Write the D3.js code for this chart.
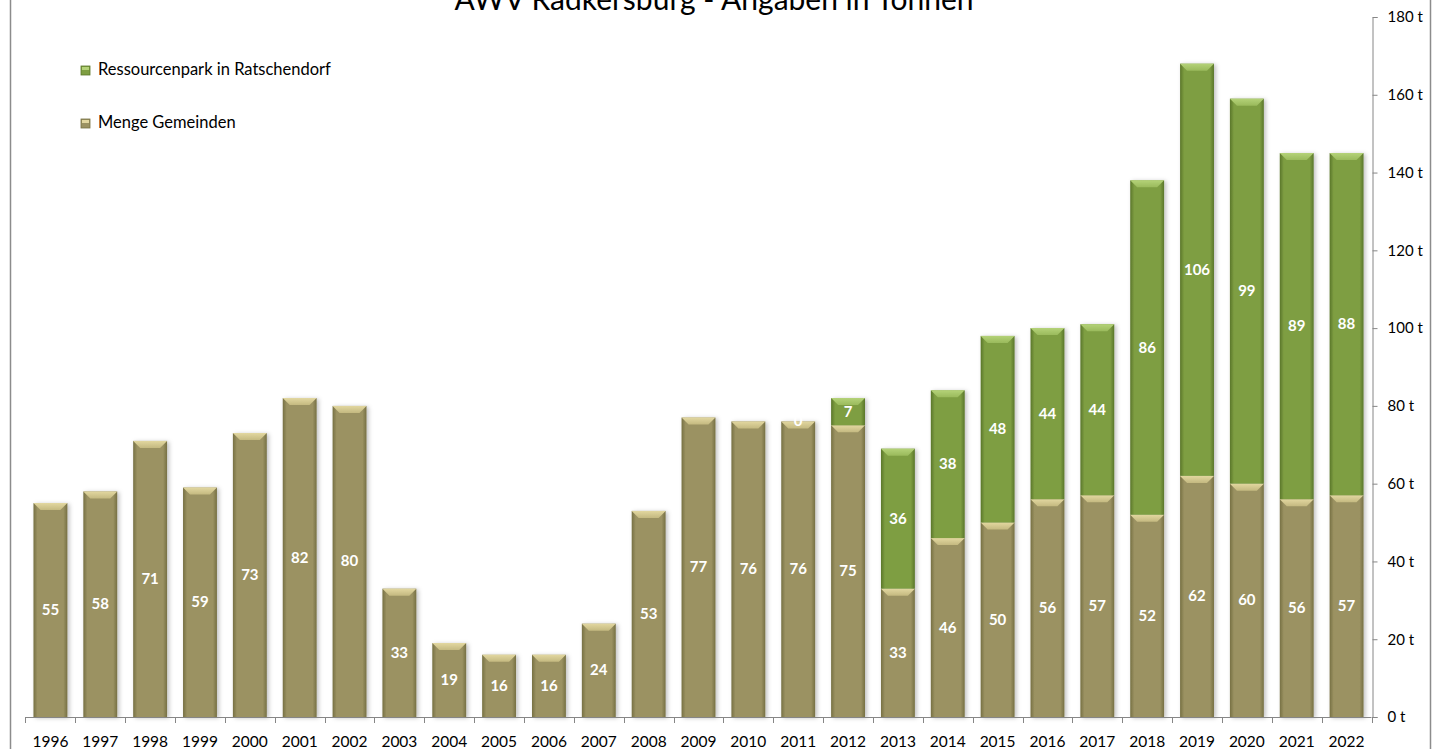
<!DOCTYPE html>
<html>
<head>
<meta charset="utf-8">
<script src="https://cdn.jsdelivr.net/npm/d3@7"></script>
<style>
  html, body { margin: 0; padding: 0; background: #fff; }
  svg { display: block; font-family: Lato, "Open Sans", sans-serif; }
</style>
</head>
<body>
<script>
const years = ['1996','1997','1998','1999','2000','2001','2002','2003','2004','2005','2006','2007','2008',
  '2009','2010','2011','2012','2013','2014','2015','2016','2017','2018','2019','2020','2021','2022'];
const gemeinden = [55, 58, 71, 59, 73, 82, 80, 33, 19, 16, 16, 24, 53, 77, 76, 76, 75, 33, 46, 50, 56, 57, 52, 62, 60, 56, 57];
const ressourcenpark = [null, null, null, null, null, null, null, null, null, null, null, null, null,
  null, null, 0, 7, 36, 38, 48, 44, 44, 86, 106, 99, 89, 88];
const yTicks = [0, 20, 40, 60, 80, 100, 120, 140, 160, 180];
const seriesNames = ['Ressourcenpark in Ratschendorf', 'Menge Gemeinden'];

const W = 1443, H = 749;
const svg = d3.select('body').append('svg').attr('width', W).attr('height', H);

const defs = svg.append('defs');
const palettes = {
  gem: { edge: '#767043', mid: '#9b9262', bevTop: '#e2d7a0', bevBot: '#c4b980' },
  res: { edge: '#5a762a', mid: '#7e9e42', bevTop: '#b4d278', bevBot: '#9aba5c' }
};
Object.entries(palettes).forEach(([k, p]) => {
  const g = defs.append('linearGradient').attr('id', 'body-' + k).attr('x1', 0).attr('x2', 1).attr('y1', 0).attr('y2', 0);
  g.append('stop').attr('offset', '0%').attr('stop-color', p.edge);
  g.append('stop').attr('offset', '12%').attr('stop-color', p.mid);
  g.append('stop').attr('offset', '88%').attr('stop-color', p.mid);
  g.append('stop').attr('offset', '100%').attr('stop-color', p.edge);
  const b = defs.append('linearGradient').attr('id', 'bev-' + k).attr('x1', 0).attr('x2', 0).attr('y1', 0).attr('y2', 1);
  b.append('stop').attr('offset', '0%').attr('stop-color', p.bevTop);
  b.append('stop').attr('offset', '100%').attr('stop-color', p.bevBot);
});
const shadow = defs.append('filter').attr('id', 'shadow').attr('x', '-20%').attr('y', '-5%').attr('width', '150%').attr('height', '120%');
shadow.append('feDropShadow').attr('dx', 2).attr('dy', 1).attr('stdDeviation', 2).attr('flood-color', '#000').attr('flood-opacity', 0.25);

// outer frame
svg.append('line').attr('x1', 10.5).attr('x2', 10.5).attr('y1', 0).attr('y2', H).attr('stroke', '#8c8c8c').attr('stroke-width', 1.5);
svg.append('line').attr('x1', 1430.5).attr('x2', 1430.5).attr('y1', 0).attr('y2', H).attr('stroke', '#8c8c8c').attr('stroke-width', 1.5);

const x = d3.scaleBand().domain(years).range([25.5, 1371.5]).paddingInner(0.32).paddingOuter(0.16);
const y = d3.scaleLinear().domain([0, 180]).range([717, 17]);

// title (clipped at the top edge, as in the source)
svg.append('text').attr('x', 714).attr('y', 10).attr('text-anchor', 'middle')
  .attr('font-size', 30).attr('fill', '#000').text('AWV Radkersburg - Angaben in Tonnen');

// stacked data
const rows = years.map((yr, i) => ({
  year: yr,
  segs: [
    { key: 'gem', v0: 0, v1: gemeinden[i], val: gemeinden[i] },
    ressourcenpark[i] == null ? null :
      { key: 'res', v0: gemeinden[i], v1: gemeinden[i] + ressourcenpark[i], val: ressourcenpark[i] }
  ].filter(Boolean)
}));

const bev = 7;
const barG = svg.append('g');
rows.forEach(r => {
  const bx = x(r.year), bw = x.bandwidth();
  const g = barG.append('g').attr('filter', 'url(#shadow)');
  r.segs.forEach(s => {
    const top = y(s.v1), bot = y(s.v0);
    if (bot - top <= 0) return;
    g.append('rect').attr('x', bx).attr('y', top).attr('width', bw).attr('height', bot - top)
      .attr('fill', `url(#body-${s.key})`);
    const bh = Math.min(bev, bot - top);
    g.append('path')
      .attr('d', `M${bx},${top}L${bx + bw},${top}L${bx + bw - bh},${top + bh}L${bx + bh},${top + bh}Z`)
      .attr('fill', `url(#bev-${s.key})`);
  });
});

// value labels
rows.forEach(r => {
  r.segs.forEach(s => {
    barG.append('text')
      .attr('x', x(r.year) + x.bandwidth() / 2)
      .attr('y', (y(s.v0) + y(s.v1)) / 2 + 5)
      .attr('text-anchor', 'middle').attr('font-size', 15).attr('font-weight', 'bold')
      .attr('fill', '#fff').text(d3.format('d')(s.val));
  });
});

// bottom axis (ticks at category boundaries)
const axisColor = '#868686';
const bottom = svg.append('g');
bottom.append('line').attr('x1', 25.5).attr('x2', 1371.5).attr('y1', 717.5).attr('y2', 717.5).attr('stroke', axisColor);
const step = x.step();
d3.range(years.length + 1).forEach(i => {
  const tx = Math.round(x(years[0]) - step * x.paddingOuter() + i * step) + 0.5;
  bottom.append('line').attr('x1', tx).attr('x2', tx).attr('y1', 717).attr('y2', 723).attr('stroke', axisColor);
});
bottom.selectAll('text.yr').data(years).enter().append('text')
  .attr('x', d => x(d) + x.bandwidth() / 2).attr('y', 747)
  .attr('text-anchor', 'middle').attr('font-size', 15.5).attr('fill', '#000').text(d => d);

// right axis
const right = svg.append('g').attr('transform', 'translate(1372.5,0)')
  .call(d3.axisRight(y).tickValues(yTicks).tickSize(5).tickPadding(10).tickFormat(d => d + ' t'));
right.select('.domain').attr('stroke', axisColor);
right.selectAll('.tick line').attr('stroke', axisColor);
right.selectAll('.tick text').attr('font-size', 15).attr('font-family', 'Lato, "Open Sans", sans-serif').attr('fill', '#000');

// legend
const legend = svg.append('g');
const legendKeys = ['res', 'gem'];
legendKeys.forEach((k, i) => {
  const ly = 70 + i * 53;
  legend.append('rect').attr('x', 81).attr('y', ly - 4).attr('width', 9).attr('height', 9)
    .attr('fill', palettes[k].mid).attr('stroke', palettes[k].edge).attr('stroke-width', 0.8);
  legend.append('rect').attr('x', 82).attr('y', ly - 3).attr('width', 7).attr('height', 3).attr('fill', palettes[k].bevTop);
  legend.append('text').attr('x', 98).attr('y', ly + 5).attr('font-size', 16.5).attr('fill', '#000').text(seriesNames[i]);
});
</script>
</body>
</html>
